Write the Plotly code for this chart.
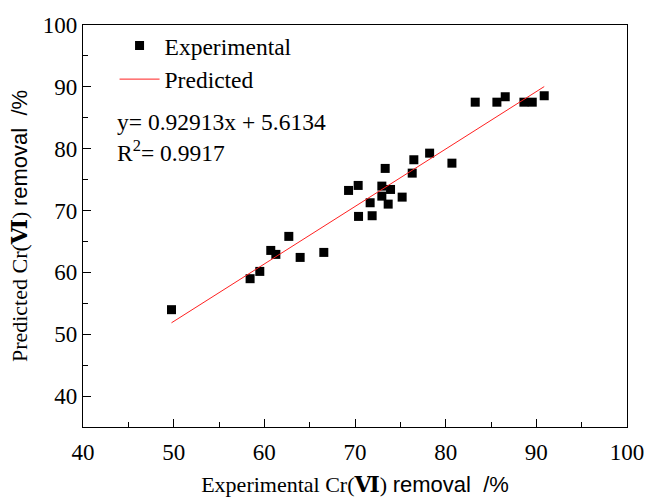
import plotly.graph_objects as go

# Experimental vs predicted Cr(VI) removal (%)
experimental = [49.76, 58.43, 59.50, 60.71, 61.27, 62.70, 63.95, 66.56, 69.29, 70.35,
                70.39, 71.67, 71.89, 72.96, 72.96, 73.33, 73.92, 73.66, 75.20, 76.31,
                76.49, 78.23, 80.69, 83.26, 85.65, 86.57, 88.63, 89.55, 90.87]
predicted = [53.97, 58.98, 60.16, 63.55, 62.91, 65.82, 62.42, 63.23, 73.25, 74.06,
             69.05, 71.26, 69.16, 73.95, 72.33, 76.81, 73.41, 71.04, 72.17, 76.05,
             78.21, 79.28, 77.66, 87.52, 87.52, 88.40, 87.52, 87.52, 88.56]

slope = 0.92913
intercept = 5.6134
r2 = 0.9917

fit_x = [min(experimental), max(experimental)]
fit_y = [slope * v + intercept for v in fit_x]

x_ticks = [40, 50, 60, 70, 80, 90, 100]
y_ticks = [40, 50, 60, 70, 80, 90, 100]

SERIF = "Liberation Serif, Times New Roman, serif"
SANS = "Liberation Sans, Arial, sans-serif"
NUMERAL = "DejaVu Serif"

fig = go.Figure()
fig.add_trace(go.Scatter(
    x=experimental, y=predicted, mode="markers", name="Experimental",
    marker=dict(symbol="square", size=9, color="black"),
))
fig.add_trace(go.Scatter(
    x=fit_x, y=fit_y, mode="lines", name="Predicted",
    line=dict(color="#ff2020", width=1),
))

def title_text(word):
    return (f"{word} Cr(<span style='font-family:{NUMERAL};font-weight:bold'>Ⅵ</span>) "
            f"<span style='font-family:{SANS}'>removal  /%</span>")

axis_common = dict(
    showline=True, linecolor="black", linewidth=1.3, mirror=True,
    ticks="inside", ticklen=8, tickwidth=1.3, tickcolor="black",
    showgrid=False, zeroline=False, automargin=False,
    tickfont=dict(family=SERIF, size=23, color="black"),
    minor=dict(ticks="inside", ticklen=5, tickwidth=1.3, tickcolor="black", dtick=5),
)

fig.update_xaxes(
    range=[40, 100], tickvals=x_ticks, ticktext=[str(v) for v in x_ticks],
    ticklabelstandoff=4,
    title=dict(text=title_text("Experimental"), font=dict(family=SERIF, size=22, color="black"), standoff=20),
    **axis_common,
)
fig.update_yaxes(
    range=[35, 100], tickvals=y_ticks, ticktext=[str(v) for v in y_ticks],
    title=dict(text=title_text("Predicted"), font=dict(family=SERIF, size=22, color="black"), standoff=9),
    **axis_common,
)

fig.add_annotation(
    xref="paper", yref="paper", x=0.058, y=0.758, xanchor="left", yanchor="middle",
    text=f"y= {slope}x + {intercept}", showarrow=False,
    font=dict(family=SERIF, size=23.5, color="black"),
)
fig.add_annotation(
    xref="paper", yref="paper", x=0.058, y=0.686, xanchor="left", yanchor="middle",
    text=f"R<sup>2</sup>= {r2}", showarrow=False,
    font=dict(family=SERIF, size=23.5, color="black"),
)

fig.update_layout(
    width=646, height=497,
    margin=dict(l=83, r=19, t=24.5, b=70),
    paper_bgcolor="white", plot_bgcolor="white",
    showlegend=True,
    legend=dict(x=0.058, y=1.003, xanchor="left", yanchor="top",
                font=dict(family=SERIF, size=23.5, color="black"),
                bgcolor="rgba(0,0,0,0)", tracegroupgap=0, itemwidth=40),
)

fig.write_html(
    "out.html",
    config={"displayModeBar": False},
    post_script="document.body.style.margin='0';document.body.style.overflow='hidden';",
)
